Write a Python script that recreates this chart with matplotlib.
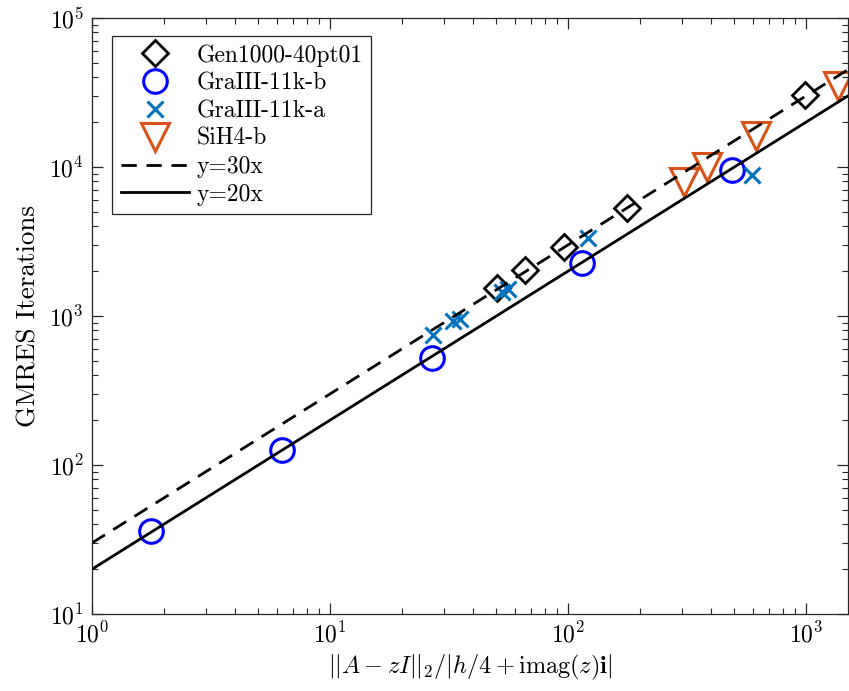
import numpy as np
import matplotlib
matplotlib.use("Agg")
import matplotlib.pyplot as plt
from matplotlib.ticker import LogLocator, NullFormatter

plt.rcParams['font.family'] = ['cmr10', 'DejaVu Serif']
plt.rcParams['mathtext.fontset'] = 'cm'
plt.rcParams['axes.unicode_minus'] = False
plt.rcParams['axes.formatter.use_mathtext'] = True

# Data
gen_x = [50.2, 66.1, 95.7, 176.7, 993]
gen_y = [1535, 2037, 2917, 5288, 30430]

grb_x = [1.765, 6.27, 26.7, 114.4, 488]
grb_y = [36.1, 126, 525, 2260, 9545]

gra_x = [27.2, 33.0, 35.0, 53.0, 56.0, 121.2, 593]
gra_y = [745, 920, 950, 1450, 1520, 3322, 8835]

sih_x = [306, 383.5, 618, 1360]
sih_y = [7967, 10040, 16150, 35000]

line_x = np.array([1, 1500])

fig = plt.figure(figsize=(8.49, 6.91), dpi=100)
ax = fig.add_axes([0.1084, 0.1114, 0.8904, 0.8626])

ax.plot(gen_x, gen_y, linestyle='none', marker='D', ms=13.5, mfc='none',
        mec='black', mew=2, label='Gen1000-40pt01')
ax.plot(grb_x, grb_y, linestyle='none', marker='o', ms=17, mfc='none',
        mec=(0, 0, 1), mew=2.2, label='GraIII-11k-b')
ax.plot(gra_x, gra_y, linestyle='none', marker='x', ms=11, mfc='none',
        mec='#0072BD', mew=2.2, label='GraIII-11k-a')
ax.plot(sih_x, sih_y, linestyle='none', marker='v', ms=19.5, mfc='none',
        mec='#D95319', mew=2.2, label='SiH4-b')
ax.plot(line_x, 30 * line_x, color='black', lw=2, linestyle=(0, (5.5, 3.5)),
        label='y=30x')
ax.plot(line_x, 20 * line_x, color='black', lw=2, label='y=20x')

ax.set_xscale('log')
ax.set_yscale('log')
ax.set_xlim(1, 1500)
ax.set_ylim(10, 1e5)

ax.xaxis.set_major_locator(LogLocator(base=10, numticks=10))
ax.yaxis.set_major_locator(LogLocator(base=10, numticks=10))
ax.xaxis.set_minor_locator(LogLocator(base=10, subs=np.arange(2, 10), numticks=20))
ax.yaxis.set_minor_locator(LogLocator(base=10, subs=np.arange(2, 10), numticks=20))
ax.xaxis.set_minor_formatter(NullFormatter())
ax.yaxis.set_minor_formatter(NullFormatter())

axcol = '#262626'
for s in ax.spines.values():
    s.set_color(axcol)
    s.set_linewidth(0.9)
ax.tick_params(which='both', direction='in', top=True, right=True,
               colors=axcol, labelcolor='black')
ax.tick_params(which='major', length=8, width=0.9, labelsize=17, pad=6)
ax.tick_params(which='minor', length=4.5, width=0.8)

ax.set_ylabel('GMRES Iterations', fontsize=19.5, labelpad=6)
ax.set_xlabel(r'$||A-zI||_2/|h/4+\mathrm{imag}(z)\mathbf{i}|$', fontsize=17.5, labelpad=4)

leg = ax.legend(loc='upper left', bbox_to_anchor=(0.027, 0.97), fontsize=17,
                frameon=True, fancybox=False, edgecolor=axcol, framealpha=1,
                borderaxespad=0, handlelength=2.9, handletextpad=0.3,
                labelspacing=0.24, borderpad=0.35)
leg.get_frame().set_linewidth(0.9)

fig.savefig('out.png', dpi=100)
